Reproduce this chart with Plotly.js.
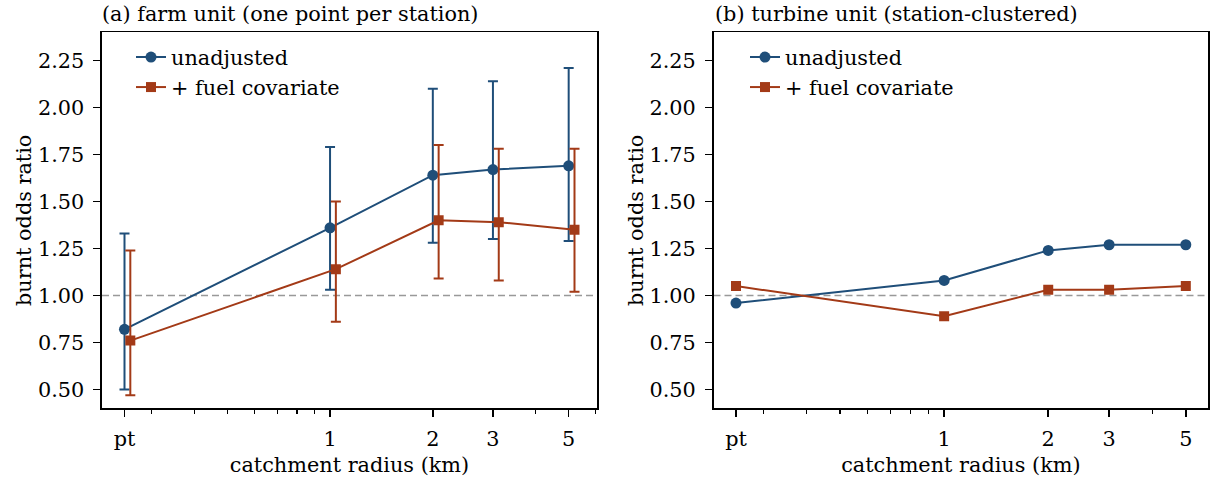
<!DOCTYPE html>
<html>
<head>
<meta charset="utf-8">
<script src="https://cdn.plot.ly/plotly-3.0.1.min.js"></script>
<style>html,body{margin:0;padding:0;background:#fff}#chart{width:1210px;height:479px}</style>
</head>
<body>
<div id="chart"></div>
<script>
// ---- data ----
const radii = [0.25, 1, 2, 3, 5];
const radiusLabels = ['pt', '1', '2', '3', '5'];
const minorTicks = [0.3, 0.4, 0.5, 0.6, 0.7, 0.8, 0.9, 4, 6];

// panel (a): farm unit
const farmUnadj = [0.82, 1.36, 1.64, 1.67, 1.69];
const farmUnadjLo = [0.50, 1.03, 1.28, 1.30, 1.29];
const farmUnadjHi = [1.33, 1.79, 2.10, 2.14, 2.21];
const farmFuel = [0.76, 1.14, 1.40, 1.39, 1.35];
const farmFuelLo = [0.47, 0.86, 1.09, 1.08, 1.02];
const farmFuelHi = [1.24, 1.50, 1.80, 1.78, 1.78];

// panel (b): turbine unit
const turbUnadj = [0.96, 1.08, 1.24, 1.27, 1.27];
const turbFuel = [1.05, 0.89, 1.03, 1.03, 1.05];

const refLine = 1.0;
const dodge = 1.04;

const BLUE = '#1f4e79';
const RED = '#a33a17';
const FONT = '"DejaVu Serif", serif';
const FS = 20.8;

const fuelX = radii.map(r => r * dodge);
const up = (hi, v) => hi.map((h, i) => h - v[i]);
const dn = (lo, v) => lo.map((l, i) => v[i] - l);

function logRange(xs) {
  const lg = xs.map(Math.log10);
  const a = Math.min(...lg), b = Math.max(...lg);
  const p = (b - a) * 0.05;
  return [a - p, b + p];
}

const LW = 2;
const traces = [
  {x: radii, y: farmUnadj, type: 'scatter', mode: 'lines+markers', name: 'unadjusted',
   line: {color: BLUE, width: LW}, marker: {color: BLUE, size: 11, symbol: 'circle'},
   error_y: {type: 'data', symmetric: false, array: up(farmUnadjHi, farmUnadj), arrayminus: dn(farmUnadjLo, farmUnadj),
             color: BLUE, thickness: 2, width: 5},
   xaxis: 'x', yaxis: 'y', legend: 'legend'},
  {x: fuelX, y: farmFuel, type: 'scatter', mode: 'lines+markers', name: '+ fuel covariate',
   line: {color: RED, width: LW}, marker: {color: RED, size: 10, symbol: 'square'},
   error_y: {type: 'data', symmetric: false, array: up(farmFuelHi, farmFuel), arrayminus: dn(farmFuelLo, farmFuel),
             color: RED, thickness: 2, width: 5},
   xaxis: 'x', yaxis: 'y', legend: 'legend'},
  {x: radii, y: turbUnadj, type: 'scatter', mode: 'lines+markers', name: 'unadjusted',
   line: {color: BLUE, width: LW}, marker: {color: BLUE, size: 11, symbol: 'circle'},
   xaxis: 'x2', yaxis: 'y2', legend: 'legend2'},
  {x: radii, y: turbFuel, type: 'scatter', mode: 'lines+markers', name: '+ fuel covariate',
   line: {color: RED, width: LW}, marker: {color: RED, size: 10, symbol: 'square'},
   xaxis: 'x2', yaxis: 'y2', legend: 'legend2'}
];

const xCommon = {
  type: 'log', tickmode: 'array', tickvals: radii, ticktext: radiusLabels,
  ticks: 'outside', ticklen: 7, tickwidth: 1.6, tickcolor: '#000', ticklabelstandoff: 4,
  minor: {tickmode: 'array', tickvals: minorTicks, ticks: 'outside', ticklen: 4, tickwidth: 1.2, tickcolor: '#000', showgrid: false},
  showline: true, linecolor: '#000', linewidth: 1.6, mirror: true, showgrid: false, zeroline: false,
  tickfont: {family: FONT, size: FS, color: '#000'},
  title: {text: 'catchment radius (km)', font: {family: FONT, size: FS, color: '#000'}, standoff: 7},
  automargin: false
};
const yCommon = {
  range: [0.4, 2.4], tickmode: 'linear', tick0: 0.5, dtick: 0.25, tickformat: '.2f',
  ticks: 'outside', ticklen: 7, tickwidth: 1.6, tickcolor: '#000', ticklabelstandoff: 5,
  showline: true, linecolor: '#000', linewidth: 1.6, mirror: true, showgrid: false, zeroline: false,
  tickfont: {family: FONT, size: FS, color: '#000'},
  title: {text: 'burnt odds ratio', font: {family: FONT, size: FS, color: '#000'}, standoff: 0},
  automargin: false
};

const yDom = [1 - 408.3 / 479, 1 - 32.3 / 479];

const legendCommon = {
  font: {family: FONT, size: FS, color: '#000'}, bgcolor: 'rgba(0,0,0,0)', borderwidth: 0,
  xanchor: 'left', yanchor: 'top', tracegroupgap: 0, traceorder: 'normal'
};

const layout = {
  width: 1210, height: 479,
  margin: {l: 0, r: 0, t: 0, b: 0},
  paper_bgcolor: '#fff', plot_bgcolor: '#fff',
  font: {family: FONT, size: FS, color: '#000'},
  xaxis: Object.assign({}, xCommon, {domain: [102 / 1210, 597 / 1210], range: logRange(radii.concat(fuelX)), anchor: 'y'}),
  yaxis: Object.assign({}, yCommon, {domain: yDom, anchor: 'x'}),
  xaxis2: Object.assign({}, xCommon, {domain: [713.5 / 1210, 1208.3 / 1210], range: logRange(radii), anchor: 'y2'}),
  yaxis2: Object.assign({}, yCommon, {domain: yDom, anchor: 'x2'}),
  legend: Object.assign({}, legendCommon, {x: 131 / 1210, y: 1 - 37 / 479}),
  legend2: Object.assign({}, legendCommon, {x: 745 / 1210, y: 1 - 37 / 479}),
  shapes: [
    {type: 'line', xref: 'x domain', yref: 'y', x0: 0, x1: 1, y0: refLine, y1: refLine,
     line: {color: '#999', width: 1.4, dash: '7px,4px'}, layer: 'below'},
    {type: 'line', xref: 'x2 domain', yref: 'y2', x0: 0, x1: 1, y0: refLine, y1: refLine,
     line: {color: '#999', width: 1.4, dash: '7px,4px'}, layer: 'below'}
  ],
  annotations: [
    {text: '(a) farm unit (one point per station)', xref: 'paper', yref: 'paper', x: 100 / 1210, y: 1 - 14 / 479,
     xanchor: 'left', yanchor: 'middle', showarrow: false, font: {family: FONT, size: FS, color: '#000'}},
    {text: '(b) turbine unit (station-clustered)', xref: 'paper', yref: 'paper', x: 713 / 1210, y: 1 - 14 / 479,
     xanchor: 'left', yanchor: 'middle', showarrow: false, font: {family: FONT, size: FS, color: '#000'}}
  ],
  showlegend: true
};

Plotly.newPlot('chart', traces, layout, {displayModeBar: false, staticPlot: true});
</script>
</body>
</html>
